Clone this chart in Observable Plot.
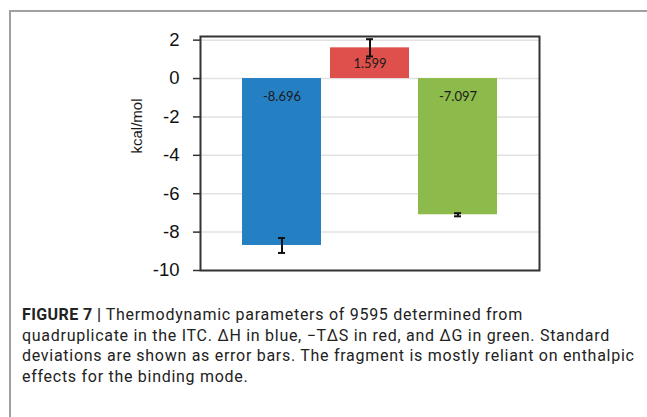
<!DOCTYPE html>
<html><head><meta charset="utf-8">
<script src="https://cdn.jsdelivr.net/npm/d3@7"></script>
<script src="https://cdn.jsdelivr.net/npm/@observablehq/plot@0.6"></script>
<style>
body{margin:0;background:#fff;width:647px;height:417px;overflow:hidden;position:relative;font-family:Roboto,"Liberation Sans",sans-serif}
#frame{position:absolute;left:9px;top:10px;width:650px;height:420px;border-left:2px solid #a0a0a0;border-top:2px solid #a0a0a0}
#chart{position:absolute;left:0;top:0}
#caption{position:absolute;left:22px;top:305px;width:620px;font-size:16px;letter-spacing:0.72px;line-height:20.5px;color:#222;margin:0;white-space:nowrap}
#caption b{font-weight:700;letter-spacing:0.4px}
</style></head><body>
<div id="frame"></div>
<div id="chart"></div>
<p id="caption"><b>FIGURE 7 |</b> Thermodynamic parameters of 9595 determined from<br>quadruplicate in the ITC. ΔH in blue, −TΔS in red, and ΔG in green. Standard<br>deviations are shown as error bars. The fragment is mostly reliant on enthalpic<br>effects for the binding mode.</p>
<script>
const parameters = ["ΔH", "−TΔS", "ΔG"];
const values = [-8.696, 1.599, -7.097];
const errors = [0.39, 0.45, 0.08];
const colors = ["#2580c3", "#df504c", "#8dbb4b"];
const valueLabels = ["-8.696", "1.599", "-7.097"];
const yTicks = [2, 0, -2, -4, -6, -8, -10];
const yLabel = "kcal/mol";

const data = parameters.map((p, i) => ({p, v: values[i], e: errors[i], label: valueLabels[i]}));

const chart = Plot.plot({
  width: 647,
  height: 290,
  marginLeft: 200,
  marginRight: 108,
  marginTop: 36,
  marginBottom: 20,
  style: {fontFamily: "'Liberation Sans', Arial, sans-serif", fontSize: "18px", color: "#1a1a1a", background: "transparent"},
  x: {domain: parameters, paddingInner: 0.1, paddingOuter: 0.465, axis: null},
  y: {domain: [-10, 2.19], axis: null},
  color: {domain: parameters, range: colors},
  marks: [
    Plot.gridY(yTicks, {stroke: "#e2e2e2", strokeOpacity: 1, strokeWidth: 1.5}),
    Plot.barY(data, {x: "p", y: "v", fill: "p"}),
    Plot.ruleX(data, {x: "p", y1: d => d.v - d.e, y2: d => d.v + d.e, stroke: "#111", strokeWidth: 2}),
    Plot.tickY(data, {x: "p", y: d => d.v - d.e, stroke: "#111", strokeWidth: 2, insetLeft: 36, insetRight: 36}),
    Plot.tickY(data, {x: "p", y: d => d.v + d.e, stroke: "#111", strokeWidth: 2, insetLeft: 36, insetRight: 36}),
    Plot.text(data.filter(d => d.v < 0), {x: "p", y: () => 0, text: "label", dy: 18, fontSize: 13, fontFamily: "Lato, 'Open Sans', sans-serif", fill: "#1a1a1a"}),
    Plot.text(data.filter(d => d.v >= 0), {x: "p", y: () => 0, text: "label", dy: -15, fontSize: 13, fontFamily: "Lato, 'Open Sans', sans-serif", fill: "#1a1a1a"}),
    Plot.frame({stroke: "#333", strokeWidth: 2}),
    Plot.axisY(yTicks, {tickSize: 7, tickPadding: 14, fontSize: 18.5, tickFormat: d => String(d), label: null, stroke: "#333", strokeWidth: 1.5, fill: "#111"}),
    Plot.text([yLabel], {frameAnchor: "left", dx: -63, rotate: -90, fontSize: 15, fill: "#1a1a1a"})
  ]
});
document.getElementById("chart").appendChild(chart);
</script>
</body></html>
